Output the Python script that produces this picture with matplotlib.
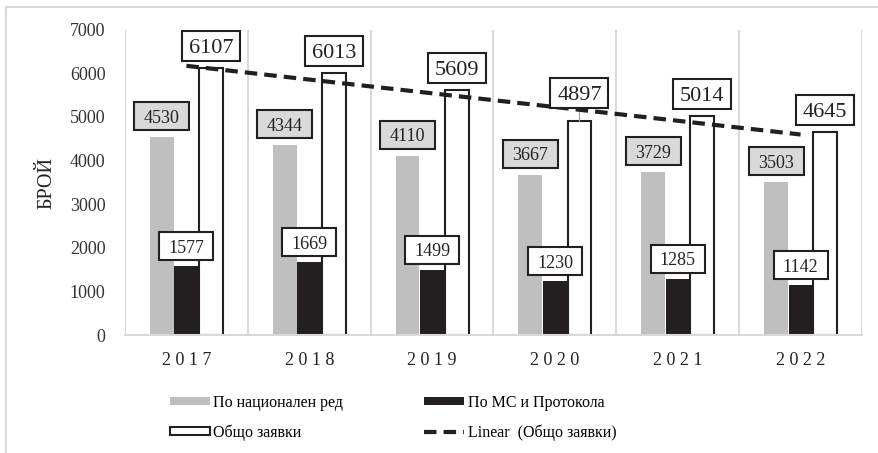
import numpy as np
import matplotlib
matplotlib.use('Agg')
import matplotlib.pyplot as plt
from matplotlib.patches import Patch, Rectangle
from matplotlib.lines import Line2D

years = ['2017', '2018', '2019', '2020', '2021', '2022']
national = [4530, 4344, 4110, 3667, 3729, 3503]
ms_protocol = [1577, 1669, 1499, 1230, 1285, 1142]
total = [6107, 6013, 5609, 4897, 5014, 4645]

plt.rcParams['font.family'] = 'serif'
plt.rcParams['font.serif'] = ['Liberation Serif', 'DejaVu Serif']

GREY = '#bfbfbf'
BLACK = '#231f20'
GRID = '#d9d9d9'

fig = plt.figure(figsize=(8.79, 4.53), dpi=100)
ax_left, ax_right, ax_top, ax_bot = 125, 862, 29.5, 335
ax = fig.add_axes([ax_left/879, 1-ax_bot/453, (ax_right-ax_left)/879, (ax_bot-ax_top)/453])

x = np.arange(len(years))
w = 0.195
ax.bar(x - 0.2, national, w, color=GREY, zorder=2)
ax.bar(x, ms_protocol, w, color=BLACK, zorder=2)
ax.bar(x + 0.2, total, w, color='white', edgecolor=BLACK, linewidth=1.5, zorder=2)

# linear trend of the totals (like Excel's trendline)
k, b = np.polyfit(x, total, 1)
ax.plot(x, k*x + b, color=BLACK, linewidth=3, dashes=(3, 1.7), zorder=4)

ax.set_xlim(-0.5, 5.5)
ax.set_ylim(0, 7000)

# pixel -> data scale, for the label boxes
px_x = (ax_right - ax_left) / 6.0
px_y = (ax_bot - ax_top) / 7000.0

def box_label(xpos, val, size, face, dy, bw, bh):
    yc = val + dy / px_y
    ax.add_patch(Rectangle((xpos - bw/2/px_x, yc - bh/2/px_y), bw/px_x, bh/px_y,
                           facecolor=face, edgecolor=BLACK, linewidth=1.5, zorder=5))
    ax.text(xpos, yc, str(val), ha='center', va='center_baseline', fontsize=size,
            color='#222222', zorder=6)
    if dy - bh/2 > 8:
        # leader line when the label was moved away from its bar
        ax.plot([xpos, xpos], [val, yc - bh/2/px_y], color='#a0a0a0', linewidth=0.8, zorder=3)

for i in range(len(years)):
    box_label(x[i] - 0.2, national[i], 13, '#d9d9d9', 21, 55, 28)
    box_label(x[i], ms_protocol[i], 13, 'white', 20, 54, 28)
    box_label(x[i] + 0.2, total[i], 16, 'white', 28 if i == 3 else 22, 58, 30)

ax.set_yticks(range(0, 7001, 1000))
ax.set_xticks(x)
ax.set_xticklabels([' '.join(y) for y in years])
ax.tick_params(axis='y', length=0, pad=14, labelsize=13, labelcolor='#333333')
ax.tick_params(axis='x', length=0, pad=12, labelsize=13, labelcolor='#222222')
for s in ['left', 'right', 'top']:
    ax.spines[s].set_visible(False)
ax.spines['bottom'].set_color(GRID)
ax.spines['bottom'].set_linewidth(1.5)
for gx in np.arange(-0.5, 6, 1):
    ax.axvline(gx, color=GRID, linewidth=1.5, zorder=1)

fig.text(47/879, 1-183/453, 'БРОЙ', rotation=90, ha='center', va='center', fontsize=14.5, color='#222222')

# outer frame (only left and top are visible in the reference)
fig.patches.append(Rectangle((6/879, -0.2), 1.2, 1-7/453+0.2, transform=fig.transFigure,
                             fill=False, edgecolor=GRID, linewidth=1.5))

handles = [Patch(facecolor=GREY, edgecolor='none'),
           Patch(facecolor='white', edgecolor=BLACK, linewidth=1.5),
           Patch(facecolor=BLACK, edgecolor='none'),
           Line2D([], [], color=BLACK, linewidth=3, dashes=(3, 1.7))]
labels = ['По национален ред', 'Общо заявки', 'По МС и Протокола', 'Linear  (Общо заявки)']
fig.legend(handles, labels, ncol=2, loc='upper left', bbox_to_anchor=(170/879, 1-395/453),
           frameon=False, fontsize=11.5, handlelength=2.5, handleheight=0.4, handletextpad=0.2,
           columnspacing=5.1, labelspacing=0.85, borderpad=0, borderaxespad=0)

fig.savefig('out.png', dpi=100)
